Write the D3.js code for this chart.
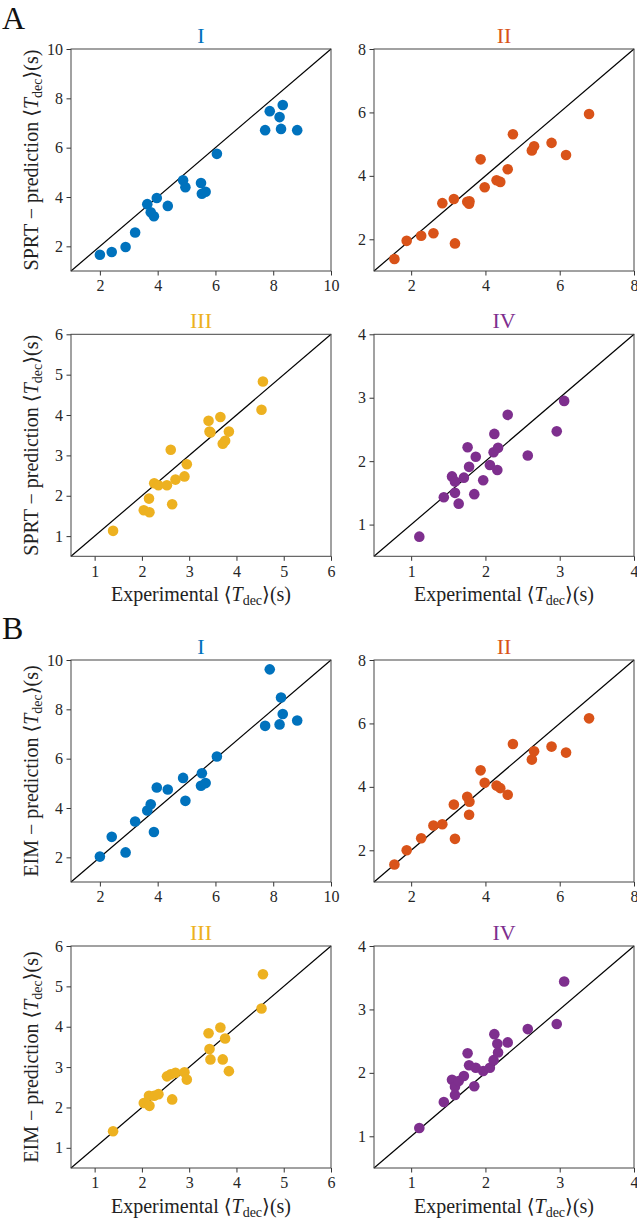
<!DOCTYPE html>
<html>
<head>
<meta charset="utf-8">
<script src="https://cdn.jsdelivr.net/npm/d3@7"></script>
<style>
  html, body { margin: 0; padding: 0; background: #fff; }
  text { font-family: "Liberation Serif", "DejaVu Serif", serif; }
</style>
</head>
<body>
<script>
// ---------- data ----------
// Experimental mean decision times per condition (shared by A and B)
const expI   = [2.00, 2.41, 2.89, 3.22, 3.64, 3.76, 3.87, 3.97, 4.35, 4.88, 4.96, 5.50, 5.53, 5.66, 6.05, 7.72, 7.88, 8.22, 8.27, 8.33, 8.83];
const sprtI  = [1.66, 1.77, 1.97, 2.56, 3.71, 3.38, 3.22, 3.96, 3.64, 4.68, 4.40, 4.57, 4.13, 4.21, 5.75, 6.71, 7.48, 7.24, 6.76, 7.73, 6.71];
const eimI   = [2.03, 2.83, 2.20, 3.45, 3.90, 4.15, 3.03, 4.83, 4.75, 5.22, 4.29, 4.90, 5.41, 5.01, 6.09, 7.33, 9.62, 7.39, 8.48, 7.81, 7.55];

const expII  = [1.55, 1.88, 2.27, 2.60, 2.84, 3.15, 3.18, 3.51, 3.57, 3.56, 3.87, 3.98, 4.30, 4.40, 4.60, 4.74, 5.25, 5.31, 5.78, 6.17, 6.79];
const sprtII = [1.38, 1.95, 2.11, 2.19, 3.14, 3.27, 1.87, 3.18, 3.20, 3.12, 4.52, 3.64, 3.86, 3.81, 4.21, 5.31, 4.80, 4.93, 5.04, 4.66, 5.95];
const eimII  = [1.55, 2.00, 2.38, 2.78, 2.82, 3.44, 2.36, 3.69, 3.53, 3.12, 4.52, 4.13, 4.04, 3.96, 3.75, 5.35, 4.86, 5.12, 5.27, 5.08, 6.16];

const expIII  = [1.39, 2.04, 2.16, 2.15, 2.26, 2.35, 2.53, 2.61, 2.64, 2.71, 2.90, 2.95, 3.41, 3.43, 3.45, 3.66, 3.71, 3.76, 3.84, 4.53, 4.56];
const sprtIII = [1.13, 1.64, 1.59, 1.93, 2.31, 2.26, 2.26, 3.14, 1.79, 2.40, 2.48, 2.78, 3.86, 3.59, 3.57, 3.95, 3.29, 3.36, 3.59, 4.13, 4.83];
const eimIII  = [1.41, 2.11, 2.04, 2.29, 2.29, 2.33, 2.77, 2.82, 2.20, 2.86, 2.87, 2.69, 3.84, 3.45, 3.19, 3.98, 3.19, 3.71, 2.90, 4.45, 5.30];

const expIV  = [1.11, 1.44, 1.55, 1.59, 1.59, 1.64, 1.71, 1.76, 1.78, 1.85, 1.87, 1.97, 2.06, 2.11, 2.12, 2.16, 2.17, 2.30, 2.57, 2.96, 3.06];
const sprtIV = [0.81, 1.43, 1.76, 1.68, 1.50, 1.33, 1.74, 2.22, 1.91, 1.48, 2.07, 1.70, 1.94, 2.14, 2.43, 1.86, 2.21, 2.73, 2.09, 2.47, 2.95];
const eimIV  = [1.13, 1.54, 1.89, 1.78, 1.65, 1.87, 1.95, 2.31, 2.12, 1.79, 2.08, 2.03, 2.08, 2.20, 2.61, 2.46, 2.32, 2.48, 2.69, 2.77, 3.44];

const conditions = ["I", "II", "III", "IV"];
const domains = [[1, 10], [1, 8], [0.5, 6], [0.5, 4]];
const ticksI = [2, 4, 6, 8, 10];
const ticksII = [2, 4, 6, 8];
const ticksIII = [1, 2, 3, 4, 5, 6];
const ticksIV = [1, 2, 3, 4];
const models = ["SPRT", "EIM"];
const blockLetters = ["A", "B"];

// ---------- styling / layout ----------
const colors = ["#0072BD", "#D95319", "#EDB120", "#7E2F8E"];
const W = 637, H = 1226;
const colLeft = [71, 374];
const rowTop = [49, 334.3, 660, 946];
const pw = 260, ph = 222;
const FONT = "'Liberation Serif', 'DejaVu Serif', serif";

const svg = d3.select("body").append("svg").attr("width", W).attr("height", H);

const expData = [expI, expII, expIII, expIV];
const tickSets = [ticksI, ticksII, ticksIII, ticksIV];
const predData = [[sprtI, sprtII, sprtIII, sprtIV], [eimI, eimII, eimIII, eimIV]];

function addLabel(sel, prefix) {
  sel.append("tspan").text(prefix + "\u27E8");
  sel.append("tspan").attr("font-style", "italic").text("T");
  sel.append("tspan").attr("font-size", "0.7em").attr("dy", "0.3em").text("dec");
  sel.append("tspan").attr("dy", "-0.21em").text("\u27E9(s)");
}

// block letters
blockLetters.forEach((L, b) => {
  svg.append("text").attr("x", 2).attr("y", b === 0 ? 29 : 639)
    .attr("font-size", 32).attr("fill", "#111").text(L);
});

for (let b = 0; b < 2; b++) {
  for (let c = 0; c < 4; c++) {
    const row = b * 2 + Math.floor(c / 2);
    const col = c % 2;
    const x0 = colLeft[col], y0 = rowTop[row];
    const g = svg.append("g").attr("transform", `translate(${x0},${y0})`);
    const xs = d3.scaleLinear().domain(domains[c]).range([0, pw]);
    const ys = d3.scaleLinear().domain(domains[c]).range([ph, 0]);

    // diagonal
    g.append("line")
      .attr("x1", xs(domains[c][0])).attr("y1", ys(domains[c][0]))
      .attr("x2", xs(domains[c][1])).attr("y2", ys(domains[c][1]))
      .attr("stroke", "#000").attr("stroke-width", 1.2);

    // points
    const pts = expData[c].map((v, i) => ({ x: v, y: predData[b][c][i] }));
    g.selectAll("circle").data(pts).enter().append("circle")
      .attr("cx", d => xs(d.x)).attr("cy", d => ys(d.y)).attr("r", 5.3)
      .attr("fill", colors[c]);

    // axes
    const xAxis = d3.axisBottom(xs).tickValues(tickSets[c]).tickSize(4.5).tickPadding(3.5).tickFormat(d3.format("d"));
    const yAxis = d3.axisLeft(ys).tickValues(tickSets[c]).tickSize(4.5).tickPadding(3.5).tickFormat(d3.format("d"));
    const gx = g.append("g").attr("transform", `translate(0,${ph})`).call(xAxis);
    const gy = g.append("g").call(yAxis);
    [gx, gy].forEach(a => {
      a.select(".domain").remove();
      a.selectAll(".tick line").attr("stroke", "#333").attr("stroke-width", 1);
      a.selectAll(".tick text").attr("font-family", FONT).attr("font-size", 16).attr("fill", "#262626");
    });
    gx.selectAll(".tick text").attr("dy", "0.78em");

    // frame
    g.append("rect").attr("x", 0).attr("y", 0).attr("width", pw).attr("height", ph)
      .attr("fill", "none").attr("stroke", "#444").attr("stroke-width", 1);

    // title
    g.append("text").attr("x", pw / 2).attr("y", -6).attr("text-anchor", "middle")
      .attr("font-size", 22).attr("fill", colors[c]).text(conditions[c]);

    // y label
    if (col === 0) {
      const t = g.append("text")
        .attr("transform", `translate(-33,${ph / 2}) rotate(-90)`)
        .attr("text-anchor", "middle").attr("font-size", 20).attr("fill", "#222");
      addLabel(t, models[b] + " \u2212 prediction ");
    }
    // x label
    if (row % 2 === 1) {
      const t = g.append("text")
        .attr("x", pw / 2).attr("y", ph + 45)
        .attr("text-anchor", "middle").attr("font-size", 20).attr("fill", "#222");
      addLabel(t, "Experimental ");
    }
  }
}
</script>
</body>
</html>
